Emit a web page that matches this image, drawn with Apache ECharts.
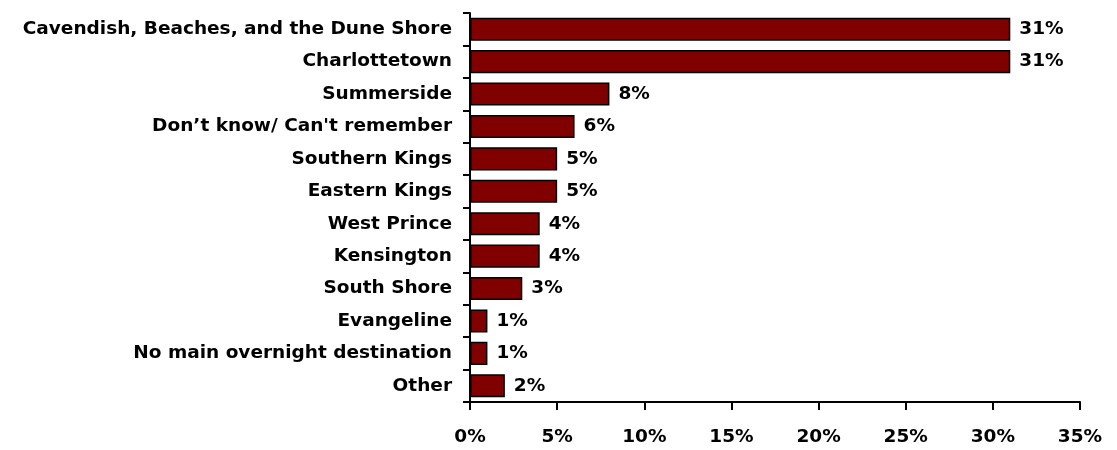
<!DOCTYPE html>
<html><head><meta charset="utf-8">
<script src="https://cdn.jsdelivr.net/npm/echarts@6/dist/echarts.min.js"></script>
<style>html,body{margin:0;padding:0;background:#fff}#c{width:1117px;height:450px}</style>
</head><body><div id="c"></div>
<script>
const categories = ["Cavendish, Beaches, and the Dune Shore","Charlottetown","Summerside","Don\u2019t know/ Can't remember","Southern Kings","Eastern Kings","West Prince","Kensington","South Shore","Evangeline","No main overnight destination","Other"];
const values = [31,31,8,6,5,5,4,4,3,1,1,2];
const tickValues = [0,5,10,15,20,25,30,35];
const font = 'DejaVu Sans';
const fs = 18.5;
const chart = echarts.init(document.getElementById('c'));
chart.setOption({
  animation:false,
  grid:{left:470,right:37,top:13,bottom:48,containLabel:false},
  xAxis:{type:'value',min:0,max:35,interval:5,
    axisLine:{show:true,lineStyle:{color:'#000',width:2}},
    axisTick:{show:true,length:8,lineStyle:{color:'#000',width:2}},
    splitLine:{show:false},
    axisLabel:{formatter:v=>v+'%',color:'#000',fontFamily:font,fontWeight:'bold',fontSize:fs,margin:26}},
  yAxis:{type:'category',data:categories,inverse:true,
    axisLine:{show:true,lineStyle:{color:'#000',width:2}},
    axisTick:{show:true,length:7,lineStyle:{color:'#000',width:2}},
    axisLabel:{color:'#000',fontFamily:font,fontWeight:'bold',fontSize:fs,margin:18}},
  series:[{type:'bar',data:values,barCategoryGap:'29%',
    itemStyle:{color:'#800000',borderColor:'#000',borderWidth:1.5},
    label:{show:true,position:'right',distance:9,formatter:p=>p.value+'%',color:'#000',fontFamily:font,fontWeight:'bold',fontSize:fs}}]
});
</script></body></html>
